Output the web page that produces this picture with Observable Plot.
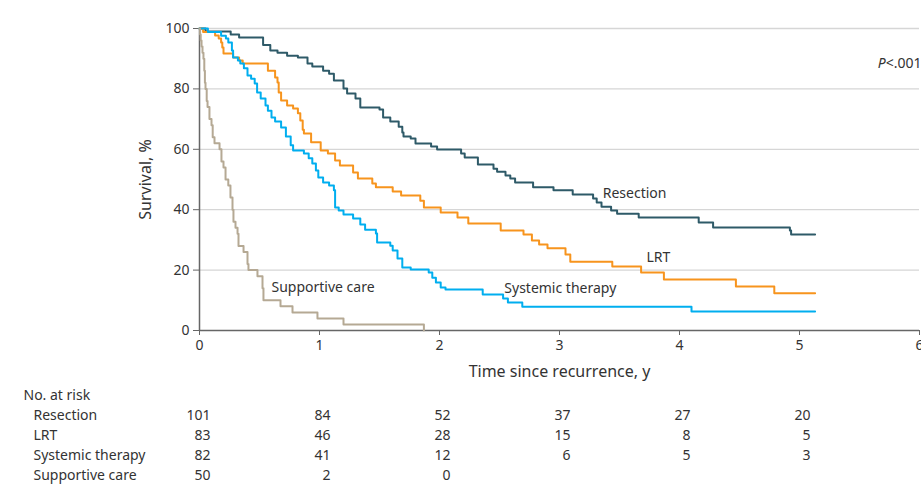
<!DOCTYPE html>
<html><head><meta charset="utf-8">
<script src="https://cdn.jsdelivr.net/npm/d3@7"></script>
<script src="https://cdn.jsdelivr.net/npm/@observablehq/plot@0.6"></script>
<style>
body{margin:0;background:#fff;}
#chart svg{display:block;overflow:visible}
</style>
</head><body><div id="chart"></div>
<script>
const groups = ["Resection", "LRT", "Systemic therapy", "Supportive care"];
const colors = ["#2e5a68", "#f7941d", "#00aeef", "#b5a994"];

const resectionT = [0,0.05,0.26,0.33,0.53,0.59,0.65,0.73,0.82,0.9,0.94,1.03,1.08,1.12,1.2,1.23,1.3,1.34,1.5,1.53,1.59,1.66,1.69,1.7,1.76,1.8,1.93,1.98,2.18,2.21,2.32,2.45,2.48,2.55,2.59,2.63,2.78,2.95,3.11,3.28,3.31,3.35,3.43,3.48,3.66,4.16,4.28,4.92,4.93,5.13];
const resectionS = [100,99,98,97,94.5,92.7,92,91,90.4,88.4,87.4,86,85,82.8,80.1,78.5,76.8,73.8,73.2,70.5,69.2,67.5,65.6,64.2,63.6,61.9,60.9,59.9,58.6,57.3,55,53.6,52.6,51.3,50.3,49,47.4,46.4,45,43.7,42.4,41,39.7,38.7,37.4,35.8,34.1,33.1,31.8,31.8];

const lrtT = [0,0.03,0.13,0.16,0.18,0.19,0.2,0.28,0.33,0.36,0.57,0.63,0.65,0.66,0.68,0.73,0.78,0.82,0.84,0.86,0.87,0.93,1.01,1.07,1.13,1.17,1.28,1.32,1.44,1.47,1.61,1.68,1.84,1.87,2.01,2.15,2.24,2.51,2.7,2.77,2.83,2.9,3.05,3.09,3.44,3.68,3.87,4.47,4.79,5.13];
const lrtS = [100,98.8,97.7,96.7,95.4,93.7,91.7,90.4,89.4,88.4,86,83.8,82.1,78.8,76.2,74.5,73.5,71.9,69.5,66.5,65.2,62.3,59.6,58.6,56.3,54.6,52.3,50.3,48.7,47.4,46,44.7,43,40.7,39.1,37.4,35.4,33.1,31.8,29.8,28.5,27.2,25.2,22.8,21.2,19.2,16.9,14.6,12.3,12.3];

const systemicT = [0,0.07,0.18,0.22,0.24,0.27,0.28,0.32,0.34,0.37,0.4,0.43,0.46,0.48,0.51,0.55,0.57,0.6,0.63,0.68,0.72,0.76,0.78,0.87,0.91,0.94,0.97,0.99,1.03,1.08,1.12,1.13,1.16,1.2,1.28,1.34,1.38,1.47,1.48,1.59,1.61,1.65,1.69,1.76,1.91,1.94,1.97,2.01,2.05,2.36,2.53,2.57,2.69,4.1,5.13];
const systemicS = [100,98.8,97.6,96.7,95.4,92.7,90.4,89.4,88.4,86.8,84.4,83.4,81.8,78.8,76.8,74.5,72.8,70.5,69.2,67.2,64.2,61.3,59.6,58.6,57,55.3,53,50.7,49,48,46.4,40.7,39.7,38.4,37.1,35.1,33.4,32.1,29.1,28.1,26.5,23.8,20.9,20.2,19.2,17.5,15.9,14.2,13.6,11.9,10.6,9.3,7.9,6.3,6.3];

const supportiveT = [0,0.005,0.01,0.017,0.025,0.033,0.04,0.045,0.05,0.06,0.067,0.083,0.1,0.11,0.125,0.167,0.183,0.2,0.217,0.24,0.258,0.275,0.283,0.3,0.317,0.325,0.367,0.4,0.408,0.483,0.525,0.533,0.675,0.775,0.983,1.2,1.87];
const supportiveS = [100,98,96,94,92,90,86,82,80,76,74,70,68,64,62,60,56,54,50,48,44,40,36,34,32,28,26,22,20,18,14,10,8,6,4,2,0];

const labelText = ["Resection", "LRT", "Systemic therapy", "Supportive care"];
const labelT = [3.36, 3.725, 2.54, 0.6];
const labelS = [45.4, 24.2, 13.9, 14.2];

const riskTimes = [0, 1, 2, 3, 4, 5];
const riskResection = [101, 84, 52, 37, 27, 20];
const riskLRT = [83, 46, 28, 15, 8, 5];
const riskSystemic = [82, 41, 12, 6, 5, 3];
const riskSupportive = [50, 2, 0];

const font = "'Noto Sans', sans-serif";
const textColor = "#333";
const fs = 14;
const titleFs = 16;

const seriesT = [resectionT, lrtT, systemicT, supportiveT];
const seriesS = [resectionS, lrtS, systemicS, supportiveS];
const curves = [];
groups.forEach((g, i) => seriesT[i].forEach((t, j) => curves.push({group: g, t, s: seriesS[i][j]})));

const labels = labelText.map((txt, i) => ({txt, t: labelT[i], s: labelS[i]}));

const main = Plot.plot({
  width: 921, height: 385,
  marginLeft: 199, marginRight: 2, marginTop: 28, marginBottom: 55,
  style: {fontFamily: font, fontSize: fs + "px", color: textColor, background: "#fff"},
  x: {domain: [0, 6]},
  y: {domain: [0, 100]},
  color: {domain: groups, range: colors},
  marks: [
    Plot.gridY([20, 40, 60, 80, 100], {stroke: "#d6d6d6", strokeOpacity: 1, strokeWidth: 1.3}),
    Plot.axisY({ticks: [0, 20, 40, 60, 80, 100], tickFormat: "d", tickSize: 6, tickPadding: 4, stroke: "#666", fill: textColor, fontSize: fs, label: null}),
    Plot.axisY({ticks: [], label: "Survival, %", labelAnchor: "center", labelArrow: "none", labelOffset: 60, fontSize: titleFs, fill: textColor}),
    Plot.axisX({ticks: [0, 1, 2, 3, 4, 5, 6], tickFormat: "d", tickSize: 5, tickPadding: 5, stroke: "#666", fill: textColor, fontSize: fs, label: null}),
    Plot.axisX({ticks: [], label: "Time since recurrence, y", labelAnchor: "center", labelArrow: "none", labelOffset: 46, fontSize: titleFs, fill: textColor}),
    Plot.ruleX([0], {stroke: "#666", strokeWidth: 1.5}),
    Plot.ruleY([0], {stroke: "#666", strokeWidth: 1.5}),
    Plot.line(curves, {x: "t", y: "s", z: "group", stroke: "group", curve: "step-after", strokeWidth: 2}),
    Plot.text(labels, {x: "t", y: "s", text: "txt", textAnchor: "start", fill: textColor, fontSize: fs}),
    Plot.text(["P<.001"], {frameAnchor: "top-right", dy: 30, dx: 2, text: d => d, fill: textColor, fontSize: fs,
      render: (index, scales, values, dims, ctx, next) => {
        const g = next(index, scales, values, dims, ctx);
        g.querySelectorAll("text").forEach(t => {
          t.textContent = "";
          const p = document.createElementNS("http://www.w3.org/2000/svg", "tspan");
          p.setAttribute("font-style", "italic"); p.textContent = "P";
          const r = document.createElementNS("http://www.w3.org/2000/svg", "tspan");
          r.textContent = "<.001";
          t.appendChild(p); t.appendChild(r);
        });
        return g;
      }})
  ]
});

const riskSeries = [riskResection, riskLRT, riskSystemic, riskSupportive];
const riskRows = [];
groups.forEach((g, i) => riskSeries[i].forEach((n, j) => riskRows.push({group: g, t: riskTimes[j], n})));
const headerName = "No. at risk";
const rowNames = [headerName, ...groups];

const risk = Plot.plot({
  width: 921, height: 114,
  marginLeft: 199, marginRight: 2, marginTop: 0, marginBottom: 0,
  style: {fontFamily: font, fontSize: fs + "px", color: textColor, background: "#fff"},
  x: {domain: [0, 6], axis: null},
  y: {type: "point", domain: rowNames, range: [10, 90], padding: 0, axis: null},
  marks: [
    Plot.text(riskRows, {x: "t", y: "group", text: "n", textAnchor: "end", dx: 11, fill: textColor, fontSize: fs}),
    Plot.text([headerName], {x: 0, y: d => d, text: d => d, textAnchor: "start", dx: -176, fill: textColor, fontSize: fs}),
    Plot.text(groups, {x: 0, y: d => d, text: d => d, textAnchor: "start", dx: -166, fill: textColor, fontSize: fs})
  ]
});

document.getElementById("chart").append(main, risk);
</script>
</body></html>
